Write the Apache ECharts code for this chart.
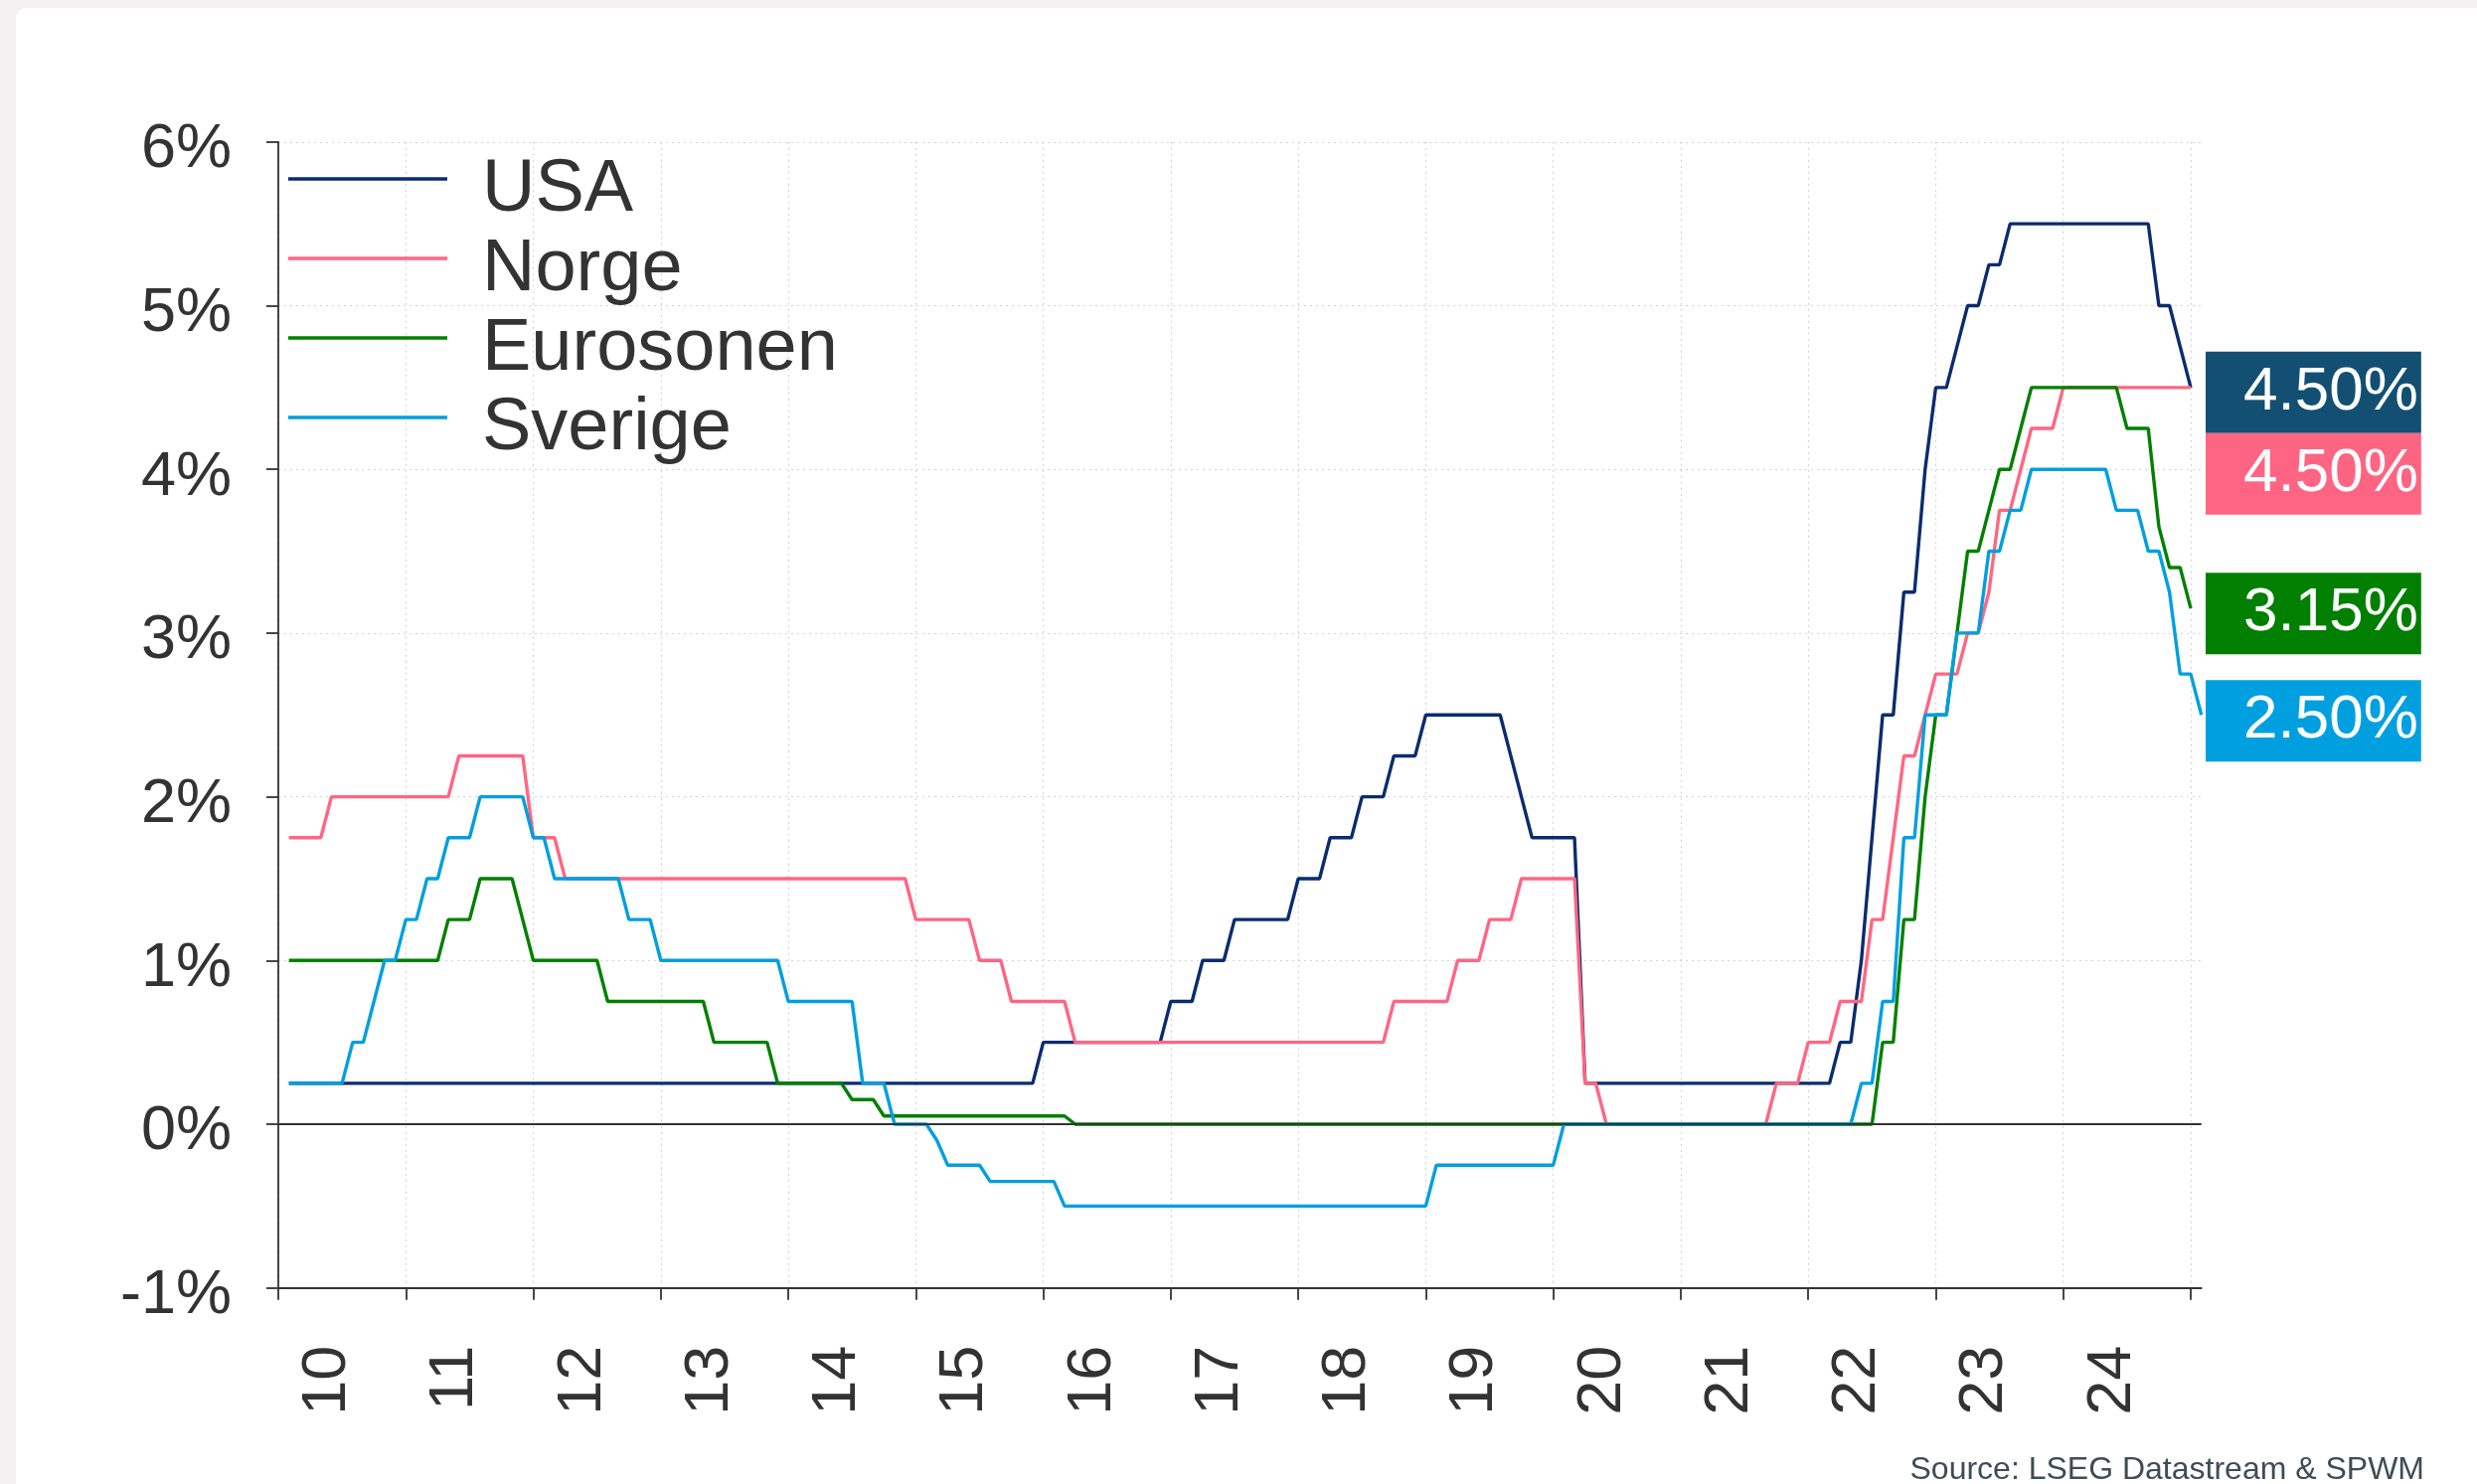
<!DOCTYPE html>
<html>
<head>
<meta charset="utf-8">
<script src="https://cdn.jsdelivr.net/npm/echarts@6.0.0/dist/echarts.min.js"></script>
<style>
  html, body { margin: 0; padding: 0; width: 2492px; height: 1493px; background: #F3F1F1; overflow: hidden; }
  #card { position: absolute; left: 16px; top: 8px; right: 0; bottom: 0; background: #ffffff; border-top-left-radius: 10px; }
  #chart { position: absolute; left: 0; top: 0; width: 2492px; height: 1493px; }
</style>
</head>
<body>
<div id="card"></div>
<div id="chart"></div>
<script>
// Monthly policy rates (end of month), first value = January 2010
const startYear = 2010;
const seriesNames = ['USA', 'Norge', 'Eurosonen', 'Sverige'];
const yearLabels = ['10','11','12','13','14','15','16','17','18','19','20','21','22','23','24'];

const usa = [
  0.25,0.25,0.25,0.25,0.25,0.25,0.25,0.25,0.25,0.25,0.25,0.25, // 2010
  0.25,0.25,0.25,0.25,0.25,0.25,0.25,0.25,0.25,0.25,0.25,0.25, // 2011
  0.25,0.25,0.25,0.25,0.25,0.25,0.25,0.25,0.25,0.25,0.25,0.25, // 2012
  0.25,0.25,0.25,0.25,0.25,0.25,0.25,0.25,0.25,0.25,0.25,0.25, // 2013
  0.25,0.25,0.25,0.25,0.25,0.25,0.25,0.25,0.25,0.25,0.25,0.25, // 2014
  0.25,0.25,0.25,0.25,0.25,0.25,0.25,0.25,0.25,0.25,0.25,0.50, // 2015
  0.50,0.50,0.50,0.50,0.50,0.50,0.50,0.50,0.50,0.50,0.50,0.75, // 2016
  0.75,0.75,1.00,1.00,1.00,1.25,1.25,1.25,1.25,1.25,1.25,1.50, // 2017
  1.50,1.50,1.75,1.75,1.75,2.00,2.00,2.00,2.25,2.25,2.25,2.50, // 2018
  2.50,2.50,2.50,2.50,2.50,2.50,2.50,2.25,2.00,1.75,1.75,1.75, // 2019
  1.75,1.75,0.25,0.25,0.25,0.25,0.25,0.25,0.25,0.25,0.25,0.25, // 2020
  0.25,0.25,0.25,0.25,0.25,0.25,0.25,0.25,0.25,0.25,0.25,0.25, // 2021
  0.25,0.25,0.50,0.50,1.00,1.75,2.50,2.50,3.25,3.25,4.00,4.50, // 2022
  4.50,4.75,5.00,5.00,5.25,5.25,5.50,5.50,5.50,5.50,5.50,5.50, // 2023
  5.50,5.50,5.50,5.50,5.50,5.50,5.50,5.50,5.00,5.00,4.75,4.50  // 2024
];

const norge = [
  1.75,1.75,1.75,1.75,2.00,2.00,2.00,2.00,2.00,2.00,2.00,2.00, // 2010
  2.00,2.00,2.00,2.00,2.25,2.25,2.25,2.25,2.25,2.25,2.25,1.75, // 2011
  1.75,1.75,1.50,1.50,1.50,1.50,1.50,1.50,1.50,1.50,1.50,1.50, // 2012
  1.50,1.50,1.50,1.50,1.50,1.50,1.50,1.50,1.50,1.50,1.50,1.50, // 2013
  1.50,1.50,1.50,1.50,1.50,1.50,1.50,1.50,1.50,1.50,1.50,1.25, // 2014
  1.25,1.25,1.25,1.25,1.25,1.00,1.00,1.00,0.75,0.75,0.75,0.75, // 2015
  0.75,0.75,0.50,0.50,0.50,0.50,0.50,0.50,0.50,0.50,0.50,0.50, // 2016
  0.50,0.50,0.50,0.50,0.50,0.50,0.50,0.50,0.50,0.50,0.50,0.50, // 2017
  0.50,0.50,0.50,0.50,0.50,0.50,0.50,0.50,0.75,0.75,0.75,0.75, // 2018
  0.75,0.75,1.00,1.00,1.00,1.25,1.25,1.25,1.50,1.50,1.50,1.50, // 2019
  1.50,1.50,0.25,0.25,0.00,0.00,0.00,0.00,0.00,0.00,0.00,0.00, // 2020
  0.00,0.00,0.00,0.00,0.00,0.00,0.00,0.00,0.25,0.25,0.25,0.50, // 2021
  0.50,0.50,0.75,0.75,0.75,1.25,1.25,1.75,2.25,2.25,2.50,2.75, // 2022
  2.75,2.75,3.00,3.00,3.25,3.75,3.75,4.00,4.25,4.25,4.25,4.50, // 2023
  4.50,4.50,4.50,4.50,4.50,4.50,4.50,4.50,4.50,4.50,4.50,4.50  // 2024
];

const eurosonen = [
  1.00,1.00,1.00,1.00,1.00,1.00,1.00,1.00,1.00,1.00,1.00,1.00, // 2010
  1.00,1.00,1.00,1.25,1.25,1.25,1.50,1.50,1.50,1.50,1.25,1.00, // 2011
  1.00,1.00,1.00,1.00,1.00,1.00,0.75,0.75,0.75,0.75,0.75,0.75, // 2012
  0.75,0.75,0.75,0.75,0.50,0.50,0.50,0.50,0.50,0.50,0.25,0.25, // 2013
  0.25,0.25,0.25,0.25,0.25,0.15,0.15,0.15,0.05,0.05,0.05,0.05, // 2014
  0.05,0.05,0.05,0.05,0.05,0.05,0.05,0.05,0.05,0.05,0.05,0.05, // 2015
  0.05,0.05,0.00,0.00,0.00,0.00,0.00,0.00,0.00,0.00,0.00,0.00, // 2016
  0.00,0.00,0.00,0.00,0.00,0.00,0.00,0.00,0.00,0.00,0.00,0.00, // 2017
  0.00,0.00,0.00,0.00,0.00,0.00,0.00,0.00,0.00,0.00,0.00,0.00, // 2018
  0.00,0.00,0.00,0.00,0.00,0.00,0.00,0.00,0.00,0.00,0.00,0.00, // 2019
  0.00,0.00,0.00,0.00,0.00,0.00,0.00,0.00,0.00,0.00,0.00,0.00, // 2020
  0.00,0.00,0.00,0.00,0.00,0.00,0.00,0.00,0.00,0.00,0.00,0.00, // 2021
  0.00,0.00,0.00,0.00,0.00,0.00,0.50,0.50,1.25,1.25,2.00,2.50, // 2022
  2.50,3.00,3.50,3.50,3.75,4.00,4.00,4.25,4.50,4.50,4.50,4.50, // 2023
  4.50,4.50,4.50,4.50,4.50,4.25,4.25,4.25,3.65,3.40,3.40,3.15  // 2024
];

const sverige = [
  0.25,0.25,0.25,0.25,0.25,0.25,0.50,0.50,0.75,1.00,1.00,1.25, // 2010
  1.25,1.50,1.50,1.75,1.75,1.75,2.00,2.00,2.00,2.00,2.00,1.75, // 2011
  1.75,1.50,1.50,1.50,1.50,1.50,1.50,1.50,1.25,1.25,1.25,1.00, // 2012
  1.00,1.00,1.00,1.00,1.00,1.00,1.00,1.00,1.00,1.00,1.00,0.75, // 2013
  0.75,0.75,0.75,0.75,0.75,0.75,0.25,0.25,0.25,0.00,0.00,0.00, // 2014
  0.00,-0.10,-0.25,-0.25,-0.25,-0.25,-0.35,-0.35,-0.35,-0.35,-0.35,-0.35, // 2015
  -0.35,-0.50,-0.50,-0.50,-0.50,-0.50,-0.50,-0.50,-0.50,-0.50,-0.50,-0.50, // 2016
  -0.50,-0.50,-0.50,-0.50,-0.50,-0.50,-0.50,-0.50,-0.50,-0.50,-0.50,-0.50, // 2017
  -0.50,-0.50,-0.50,-0.50,-0.50,-0.50,-0.50,-0.50,-0.50,-0.50,-0.50,-0.50, // 2018
  -0.25,-0.25,-0.25,-0.25,-0.25,-0.25,-0.25,-0.25,-0.25,-0.25,-0.25,-0.25, // 2019
  0.00,0.00,0.00,0.00,0.00,0.00,0.00,0.00,0.00,0.00,0.00,0.00, // 2020
  0.00,0.00,0.00,0.00,0.00,0.00,0.00,0.00,0.00,0.00,0.00,0.00, // 2021
  0.00,0.00,0.00,0.00,0.25,0.25,0.75,0.75,1.75,1.75,2.50,2.50, // 2022
  2.50,3.00,3.00,3.00,3.50,3.50,3.75,3.75,4.00,4.00,4.00,4.00, // 2023
  4.00,4.00,4.00,4.00,3.75,3.75,3.75,3.50,3.50,3.25,2.75,2.75, // 2024
  2.50                                                          // 2025
];

const lineColors = ['#0A2C6E', '#FF6682', '#008000', '#009FDF'];
const boxColors  = ['#124F73', '#FF6482', '#007F00', '#00A0E0'];
const FONT = '"Liberation Sans", Arial, Helvetica, sans-serif';

// x position of month i (0 = Jan 2010), plotted at end of month
function monthX(i) { return startYear + (i + 1) / 12; }
function toPairs(arr) { return arr.map((v, i) => [monthX(i), v]); }

const yearTicks = [];
for (let y = 2010; y <= 2025; y++) yearTicks.push(y);
// year labels sit a little left of mid-year, as in the original
const labelPos = yearLabels.map((_, i) => 2010 + i + 0.387);

const allSeries = [usa, norge, eurosonen, sverige];
const endLabelOffsets = [[0, 5], [0, 87], [0, 5], [0, 6]];
const endLabelDistance = [15, 15, 15, 4.3];

const chart = echarts.init(document.getElementById('chart'), null, { renderer: 'canvas' });

const series = allSeries.map((arr, k) => ({
  name: seriesNames[k],
  type: 'line',
  data: toPairs(arr),
  showSymbol: false,
  symbol: 'none',
  color: lineColors[k],
  lineStyle: { width: 3.4, color: lineColors[k] },
  endLabel: {
    show: true,
    formatter: p => p.value[1].toFixed(2) + '%',
    distance: endLabelDistance[k],
    offset: endLabelOffsets[k],
    color: '#ffffff',
    fontSize: 62,
    fontFamily: FONT,
    lineHeight: 62,
    backgroundColor: boxColors[k],
    padding: [10, 3, 10, 38],
    align: 'left',
    verticalAlign: 'middle'
  },
  markLine: k === 0 ? {
    silent: true,
    symbol: 'none',
    label: { show: false },
    emphasis: { disabled: true },
    lineStyle: { color: '#333333', width: 2, type: 'solid', opacity: 1 },
    data: [{ yAxis: 0 }]
  } : undefined
}));

chart.setOption({
  animation: false,
  backgroundColor: 'transparent',
  grid: { left: 280, right: 277.3, top: 142.8, bottom: 197.3, containLabel: false },
  legend: {
    orient: 'vertical',
    left: 290,
    top: 155,
    padding: 0,
    itemWidth: 160,
    itemHeight: 3.5,
    itemGap: 6,
    icon: 'rect',
    data: seriesNames,
    formatter: '{n|{name}}',
    textStyle: {
      fontSize: 74, color: '#333333', fontFamily: FONT,
      padding: [24, 0, 0, 30],
      rich: { n: { fontSize: 74, lineHeight: 50, color: '#333333', fontFamily: FONT } }
    }
  },
  xAxis: {
    type: 'value',
    min: 2010,
    max: 'dataMax',
    interval: 1,
    axisLine: { show: true, onZero: false, lineStyle: { color: '#333333', width: 1.8 } },
    axisTick: { show: true, length: 12, customValues: yearTicks, lineStyle: { color: '#333333', width: 1.8 } },
    axisLabel: {
      customValues: labelPos,
      formatter: v => yearLabels[Math.floor(v) - 2010],
      rotate: 90,
      margin: 58,
      fontSize: 63,
      fontFamily: FONT,
      color: '#333333'
    },
    splitLine: { show: true, lineStyle: { color: '#d4d4d4', width: 1.2, type: [2, 4] } }
  },
  yAxis: {
    type: 'value',
    min: -1,
    max: 6,
    interval: 1,
    axisLine: { show: true, lineStyle: { color: '#333333', width: 1.8 } },
    axisTick: { show: true, length: 12, lineStyle: { color: '#333333', width: 1.8 } },
    axisLabel: {
      formatter: v => v + '%',
      margin: 47,
      verticalAlign: 'top',
      lineHeight: 16,
      fontSize: 63,
      fontFamily: FONT,
      color: '#333333'
    },
    splitLine: { show: true, lineStyle: { color: '#d4d4d4', width: 1.2, type: [2, 4] } }
  },
  graphic: [{
    type: 'text',
    right: 53,
    bottom: -2,
    style: { text: 'Source: LSEG Datastream & SPWM', font: '32px "Liberation Sans", Arial, sans-serif', fill: '#3E4C56' }
  }],
  series: series
});
</script>
</body>
</html>
